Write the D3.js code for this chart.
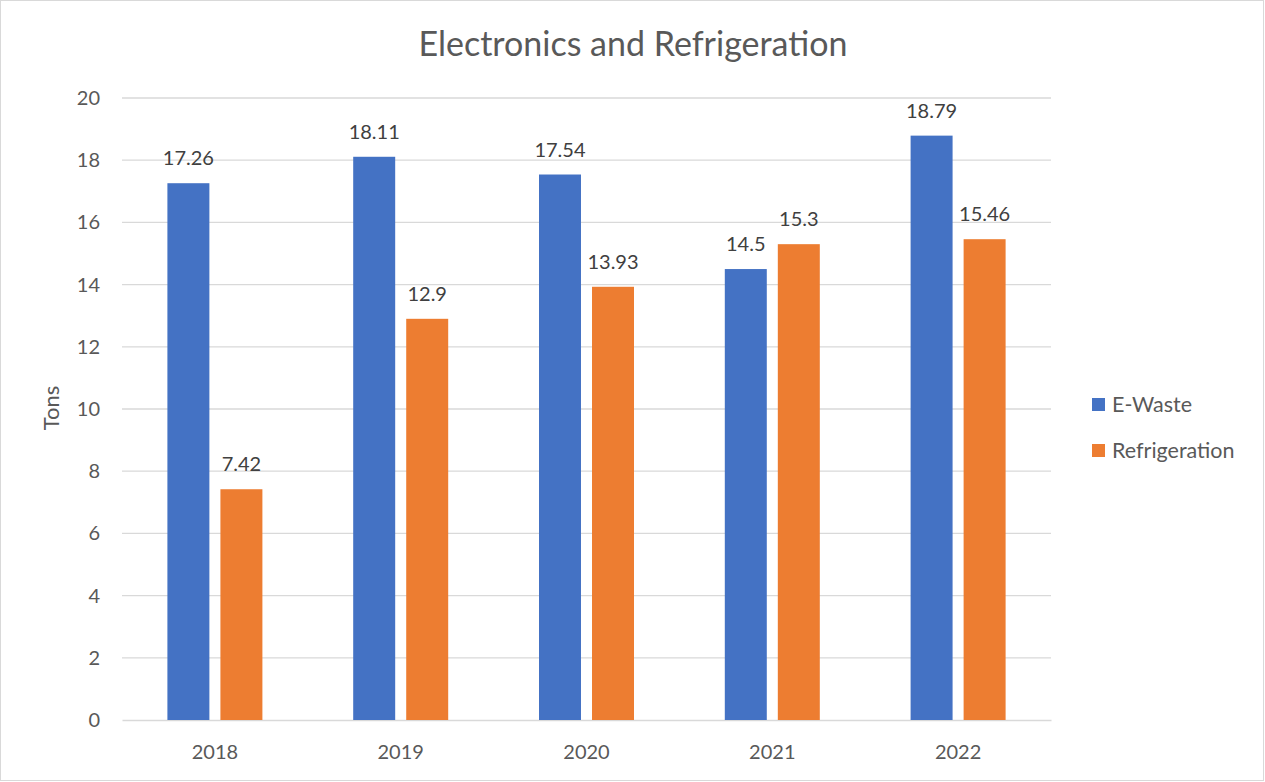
<!DOCTYPE html>
<html><head><meta charset="utf-8">
<script src="https://cdn.jsdelivr.net/npm/d3@7"></script>
<style>body{margin:0;background:#fff;}svg{display:block;font-family:Lato,"Open Sans",sans-serif;}</style>
</head><body>
<svg id="chart" width="1265" height="782"></svg>
<script>
const years = ["2018","2019","2020","2021","2022"];
const series = ["E-Waste","Refrigeration"];
const eWaste = [17.26,18.11,17.54,14.5,18.79];
const refrigeration = [7.42,12.9,13.93,15.3,15.46];
const yTicks = [0,2,4,6,8,10,12,14,16,18,20];
const colors = ["#4472C4","#ED7D31"];
const title = "Electronics and Refrigeration";
const yLabel = "Tons";

const svg = d3.select("#chart");
const textColor = "#595959";
svg.append("rect").attr("x",0.5).attr("y",0.5).attr("width",1263).attr("height",780)
  .attr("fill","#fff").attr("stroke","#d9d9d9");

const x0 = d3.scaleBand().domain(years).range([122,1051]);
const y = d3.scaleLinear().domain([0,20]).range([720,98]);

// gridlines
svg.append("g").selectAll("line").data(yTicks.filter(t=>t>0)).join("line")
  .attr("x1",122).attr("x2",1051).attr("y1",d=>y(d)).attr("y2",d=>y(d))
  .attr("stroke","#d9d9d9").attr("stroke-width",1.3);

// y axis
const yAxis = d3.axisLeft(y).tickValues(yTicks).tickSize(0).tickPadding(0);
const ya = svg.append("g").attr("transform","translate(100,0)").call(yAxis);
ya.select(".domain").remove();
ya.selectAll("text").attr("font-size",20).attr("fill",textColor).attr("font-family","Lato,'Open Sans',sans-serif");

// x axis
const xAxis = d3.axisBottom(x0).tickSize(0).tickPadding(0);
const xa = svg.append("g").attr("transform","translate(0,720)").call(xAxis);
xa.select(".domain").attr("stroke","#d9d9d9").attr("stroke-width",1.3);
xa.selectAll("text").attr("font-size",20).attr("fill",textColor).attr("dy","1.95em").attr("font-family","Lato,'Open Sans',sans-serif");

const data = years.map((yr,i)=>({year:yr, values:[eWaste[i],refrigeration[i]]}));

const groups = svg.append("g").selectAll("g").data(data).join("g");
groups.each(function(d){
  const c = x0(d.year)+x0.bandwidth()/2;
  const x1 = d3.scaleBand().domain(series).range([c-47.5,c+47.5]).paddingInner(0.208);
  const g = d3.select(this);
  series.forEach((s,j)=>{
    const v = d.values[j];
    g.append("rect").attr("x",x1(s)).attr("width",x1.bandwidth())
      .attr("y",y(v)).attr("height",y(0)-y(v)).attr("fill",colors[j]);
    g.append("text").attr("x",x1(s)+x1.bandwidth()/2).attr("y",y(v)-18)
      .attr("text-anchor","middle").attr("font-size",20).attr("fill","#404040").text(v);
  });
});

// title
svg.append("text").attr("x",633).attr("y",56).attr("text-anchor","middle")
  .attr("font-size",34).attr("fill",textColor).text(title);

// y label
svg.append("text").attr("transform","translate(59,408) rotate(-90)").attr("text-anchor","middle")
  .attr("font-size",22).attr("fill",textColor).text(yLabel);

// legend
const leg = svg.append("g").selectAll("g").data(series).join("g")
  .attr("transform",(d,i)=>`translate(1092,${398+i*46})`);
leg.append("rect").attr("width",13).attr("height",13).attr("fill",(d,i)=>colors[i]);
leg.append("text").attr("x",20).attr("y",13.5).attr("font-size",21.5).attr("fill",textColor).text(d=>d);
</script>
</body></html>
